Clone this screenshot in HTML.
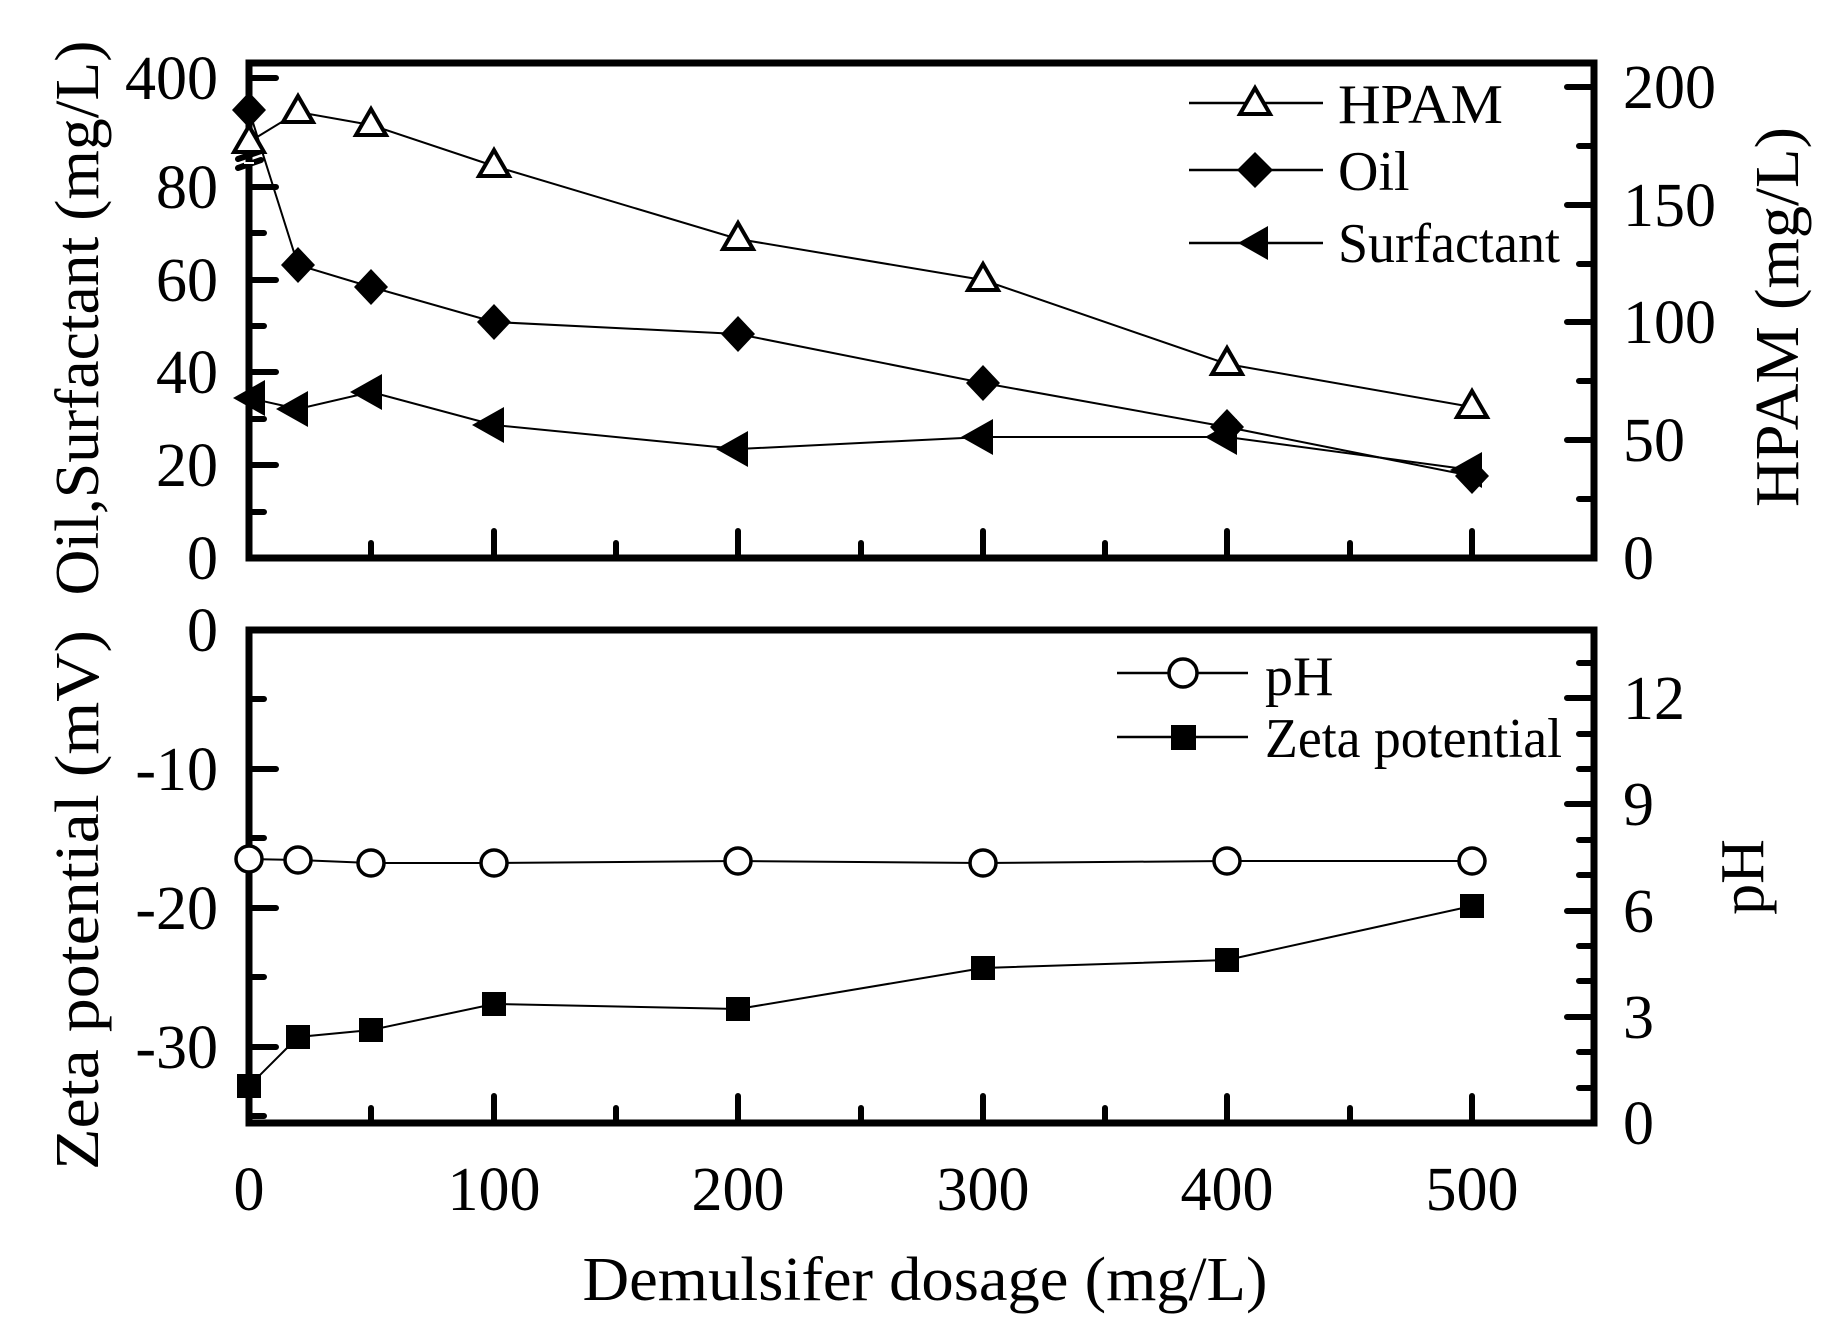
<!DOCTYPE html>
<html><head><meta charset="utf-8"><style>
html,body{margin:0;padding:0;background:#fff;}
svg{display:block;}
text{font-family:"Liberation Serif",serif;fill:#000;}
</style></head><body>
<svg width="1833" height="1323" viewBox="0 0 1833 1323" xmlns="http://www.w3.org/2000/svg">
<rect width="1833" height="1323" fill="#fff"/>
<g stroke="#000" stroke-width="7" fill="none" stroke-linecap="round">
<rect x="249" y="63" width="1345" height="495"/>
<rect x="249" y="630" width="1345" height="493"/>
</g>
<g stroke="#000" stroke-width="6" stroke-linecap="round">
<path d="M252 78H276 M252 187H276 M252 233H264 M252 280H276 M252 326H264 M252 372H276 M252 419H264 M252 465H276 M252 512H264"/>
<path d="M1591 87H1567 M1591 146H1579 M1591 205H1567 M1591 264H1579 M1591 322H1567 M1591 381H1579 M1591 440H1567 M1591 499H1579"/>
<path d="M494 555V531 M738 555V531 M983 555V531 M1227 555V531 M1472 555V531 M371 555V543 M616 555V543 M861 555V543 M1105 555V543 M1350 555V543"/>
<path d="M494 1120V1096 M738 1120V1096 M983 1120V1096 M1227 1120V1096 M1472 1120V1096 M371 1120V1108 M616 1120V1108 M861 1120V1108 M1105 1120V1108 M1350 1120V1108"/>
<path d="M252 699H264 M252 769H276 M252 838H264 M252 908H276 M252 977H264 M252 1047H276 M252 1116H264"/>
<path d="M1591 1088H1579 M1591 1052H1579 M1591 1017H1567 M1591 981H1579 M1591 946H1579 M1591 911H1567 M1591 875H1579 M1591 840H1579 M1591 804H1567 M1591 769H1579 M1591 734H1579 M1591 698H1567 M1591 663H1579"/>
<path d="M238 159L261 151 M238 168L261 160"/>
</g>
<rect x="244" y="162" width="10" height="2" fill="#fff"/>

<polyline fill="none" stroke="#000" stroke-width="2" points="249,142 298,112 371,125 494,166 738,239 983,280 1227,364 1472,407"/>
<g fill="#fff" stroke="#000" stroke-width="4" stroke-linejoin="miter">
<polygon points="249,126 264,152 234,152"/>
<polygon points="298,96 313,122 283,122"/>
<polygon points="371,109 386,135 356,135"/>
<polygon points="494,150 509,176 479,176"/>
<polygon points="738,223 753,249 723,249"/>
<polygon points="983,264 998,290 968,290"/>
<polygon points="1227,348 1242,374 1212,374"/>
<polygon points="1472,391 1487,417 1457,417"/>
</g>
<polyline fill="none" stroke="#000" stroke-width="2" points="249,110 298,265 371,287 494,322 738,334 983,383 1227,427 1472,476"/>
<g fill="#000">
<polygon points="249,92 266,110 249,128 232,110"/>
<polygon points="298,247 315,265 298,283 281,265"/>
<polygon points="371,269 388,287 371,305 354,287"/>
<polygon points="494,304 511,322 494,340 477,322"/>
<polygon points="738,316 755,334 738,352 721,334"/>
<polygon points="983,365 1000,383 983,401 966,383"/>
<polygon points="1227,409 1244,427 1227,445 1210,427"/>
<polygon points="1472,458 1489,476 1472,494 1455,476"/>
</g>
<polyline fill="none" stroke="#000" stroke-width="2" points="249,398 298,409 371,392 494,425 738,449 983,437 1227,437 1472,470"/>
<g fill="#000">
<polygon points="233,398 265,380 265,416"/>
<polygon points="276,409 308,391 308,427"/>
<polygon points="350,392 382,374 382,410"/>
<polygon points="472,425 504,407 504,443"/>
<polygon points="716,449 748,431 748,467"/>
<polygon points="961,437 993,419 993,455"/>
<polygon points="1205,437 1237,419 1237,455"/>
<polygon points="1450,470 1482,452 1482,488"/>
</g>

<polyline fill="none" stroke="#000" stroke-width="2" points="249,859 298,860 371,863 494,863 738,861 983,863 1227,861 1472,861"/>
<g fill="#fff" stroke="#000" stroke-width="3.5">
<circle cx="249" cy="859" r="13"/><circle cx="298" cy="860" r="13"/><circle cx="371" cy="863" r="13"/><circle cx="494" cy="863" r="13"/>
<circle cx="738" cy="861" r="13"/><circle cx="983" cy="863" r="13"/><circle cx="1227" cy="861" r="13"/><circle cx="1472" cy="861" r="13"/>
</g>
<polyline fill="none" stroke="#000" stroke-width="2" points="249,1086 298,1037 371,1030 494,1004 738,1009 983,968 1227,960 1472,906"/>
<g fill="#000">
<rect x="237" y="1074" width="24" height="24"/><rect x="286" y="1025" width="24" height="24"/><rect x="359" y="1018" width="24" height="24"/><rect x="482" y="992" width="24" height="24"/>
<rect x="726" y="997" width="24" height="24"/><rect x="971" y="956" width="24" height="24"/><rect x="1215" y="948" width="24" height="24"/><rect x="1460" y="894" width="24" height="24"/>
</g>

<g stroke="#000" stroke-width="2.5"><path d="M1189 103H1323 M1189 170H1323 M1189 243H1323 M1117 673H1248 M1117 737H1248"/></g>
<polygon points="1255,88 1270,114 1240,114" fill="#fff" stroke="#000" stroke-width="4"/>
<polygon points="1255,152 1273,170 1255,188 1237,170" fill="#000"/>
<polygon points="1238,243 1268,226 1268,260" fill="#000"/>
<circle cx="1183" cy="673" r="14" fill="#fff" stroke="#000" stroke-width="3.5"/>
<rect x="1171" y="725" width="25" height="25" fill="#000"/>
<g font-size="56">
<text x="1338" y="123" textLength="165" lengthAdjust="spacingAndGlyphs">HPAM</text>
<text x="1338" y="190">Oil</text>
<text x="1338" y="262" textLength="222" lengthAdjust="spacingAndGlyphs">Surfactant</text>
<text x="1265" y="695">pH</text>
<text x="1265" y="757" textLength="297" lengthAdjust="spacingAndGlyphs">Zeta potential</text>
</g>

<g font-size="62" text-anchor="end">
<text x="218" y="99">400</text><text x="218" y="208">80</text><text x="218" y="301">60</text><text x="218" y="393">40</text><text x="218" y="486">20</text><text x="218" y="579">0</text>
<text x="218" y="651">0</text><text x="218" y="790">-10</text><text x="218" y="929">-20</text><text x="218" y="1068">-30</text>
</g>
<g font-size="62">
<text x="1623" y="108">200</text><text x="1623" y="226">150</text><text x="1623" y="343">100</text><text x="1623" y="461">50</text><text x="1623" y="579">0</text>
<text x="1623" y="719">12</text><text x="1623" y="825">9</text><text x="1623" y="932">6</text><text x="1623" y="1038">3</text><text x="1623" y="1144">0</text>
</g>
<g font-size="62" text-anchor="middle">
<text x="249" y="1210">0</text><text x="494" y="1210">100</text><text x="738" y="1210">200</text><text x="983" y="1210">300</text><text x="1227" y="1210">400</text><text x="1472" y="1210">500</text>
<text x="925" y="1300" textLength="685" lengthAdjust="spacingAndGlyphs">Demulsifer dosage (mg/L)</text>
<text transform="translate(98,318) rotate(-90)" textLength="555" lengthAdjust="spacingAndGlyphs">Oil,Surfactant (mg/L)</text>
<text transform="translate(98,900) rotate(-90)" textLength="540" lengthAdjust="spacingAndGlyphs">Zeta potential (mV)</text>
<text transform="translate(1798,317) rotate(-90)" textLength="380" lengthAdjust="spacingAndGlyphs">HPAM (mg/L)</text>
<text transform="translate(1763,877) rotate(-90)">pH</text>
</g>
</svg>
</body></html>
